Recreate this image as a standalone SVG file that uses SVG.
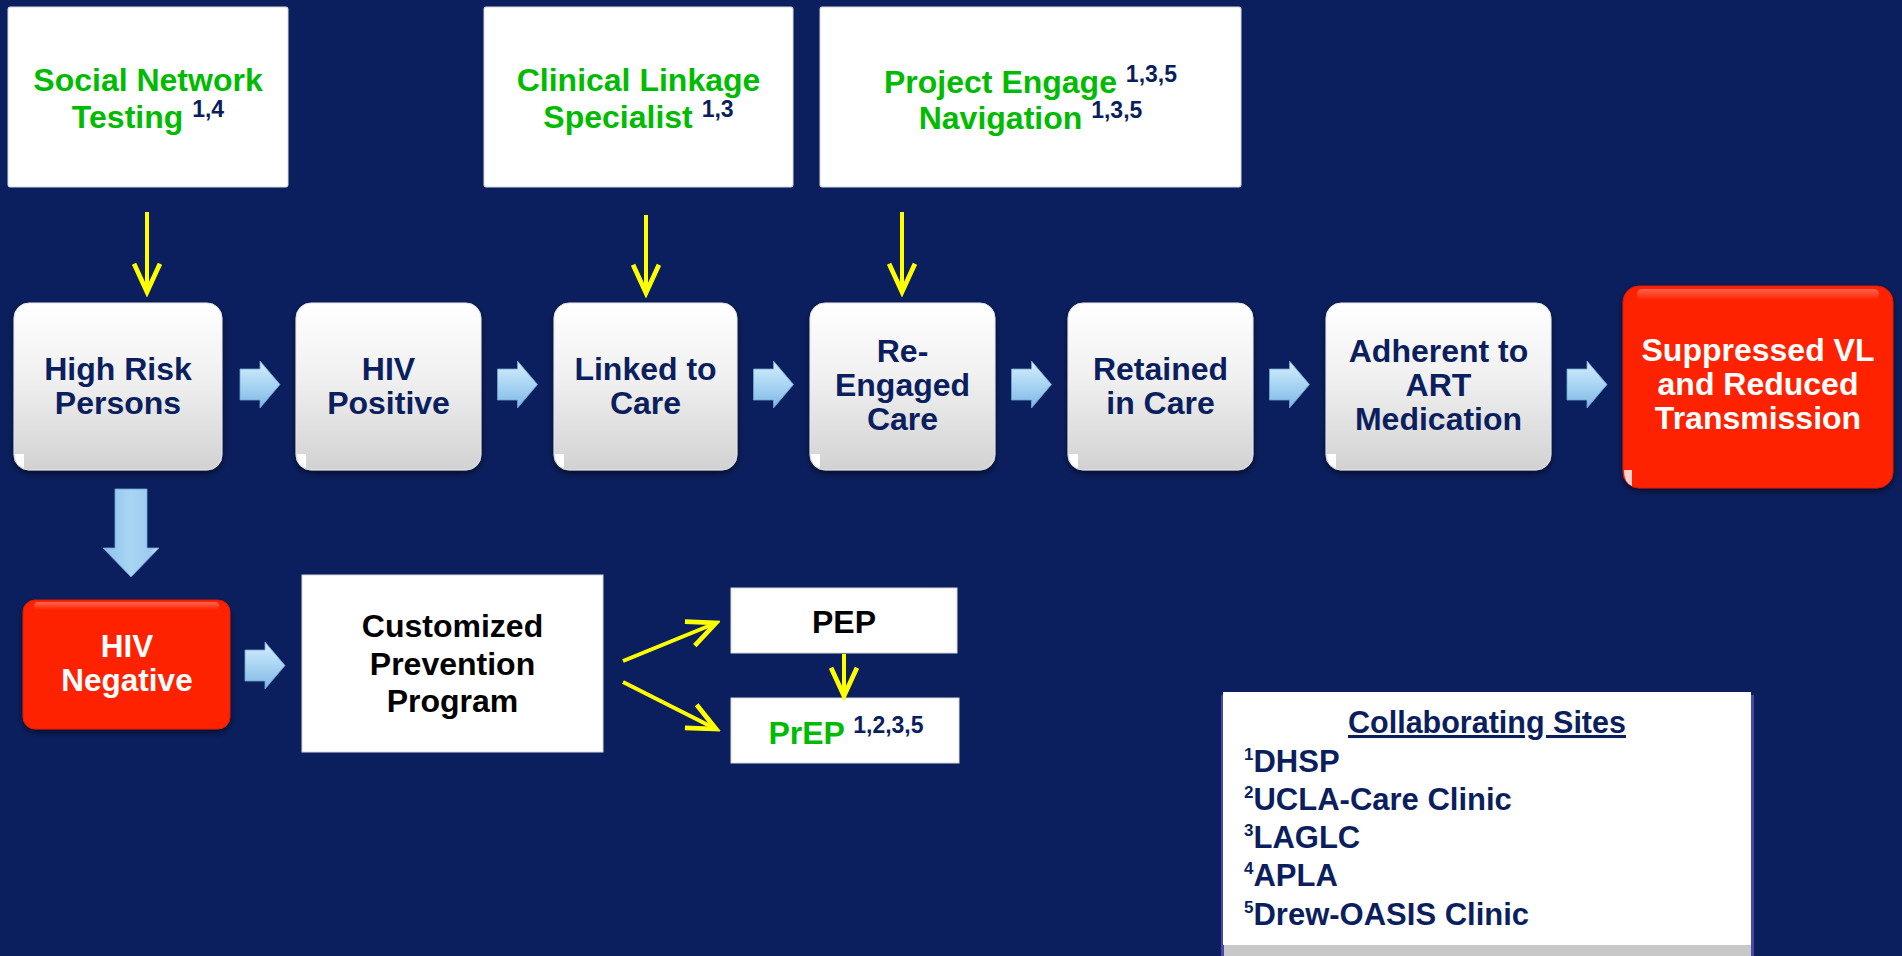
<svg xmlns="http://www.w3.org/2000/svg" width="1902" height="956" viewBox="0 0 1902 956">
  <defs>
    <style>
      text { font-family: "Liberation Sans", Arial, sans-serif; font-weight: bold; }
      .step { font-size: 32px; fill: #0B1F5E; text-anchor: middle; }
      .alert { font-size: 32px; fill: #FFFFFF; text-anchor: middle; }
      .prog { font-size: 32px; fill: #00BB00; text-anchor: middle; }
      .sup { font-size: 23px; fill: #0B1F5E; }
      .plain { font-size: 32px; fill: #000000; text-anchor: middle; }
      .card { fill: #FFFFFF; stroke: #D8D8D8; stroke-width: 1; }
      .node { fill: url(#nodeFill); stroke: #E4E4E4; stroke-width: 1; filter: url(#shadow); }
      .red { fill: #FF2400; stroke: #D81C00; stroke-width: 1; filter: url(#shadow); }
      .gloss { fill: url(#gloss); }
      .nick { fill: #FFFFFF; }
      .hop { fill: url(#hopFill); stroke: #6EA6D6; stroke-width: 0.8; }
      .drop { fill: url(#dropFill); stroke: #6EA6D6; stroke-width: 0.8; }
      .feed { stroke: #FFFF00; stroke-width: 4; fill: none; marker-end: url(#chevron); }
      .site { font-size: 31px; fill: #0B1F5E; }
      .siteSup { font-size: 17px; }
    </style>
    <linearGradient id="nodeFill" x1="0" y1="0" x2="0" y2="1">
      <stop offset="0" stop-color="#FFFFFF"/>
      <stop offset="0.45" stop-color="#F0F0F0"/>
      <stop offset="1" stop-color="#D2D2D2"/>
    </linearGradient>
    <linearGradient id="gloss" x1="0" y1="0" x2="0" y2="1">
      <stop offset="0" stop-color="#FFFFFF" stop-opacity="0.3"/>
      <stop offset="1" stop-color="#FFFFFF" stop-opacity="0"/>
    </linearGradient>
    <linearGradient id="hopFill" x1="0" y1="0" x2="0" y2="1">
      <stop offset="0" stop-color="#D6EEFC"/>
      <stop offset="0.5" stop-color="#A9D5F3"/>
      <stop offset="1" stop-color="#7FB6E3"/>
    </linearGradient>
    <linearGradient id="dropFill" x1="0" y1="0" x2="1" y2="0">
      <stop offset="0" stop-color="#8CC2EA"/>
      <stop offset="0.5" stop-color="#A9D5F3"/>
      <stop offset="0.85" stop-color="#9BCBEF"/>
      <stop offset="1" stop-color="#CFE9FB"/>
    </linearGradient>
    <filter id="shadow" x="-10%" y="-10%" width="120%" height="125%">
      <feDropShadow dx="0" dy="3" stdDeviation="3" flood-color="#000000" flood-opacity="0.55"/>
    </filter>
    <marker id="chevron" markerUnits="userSpaceOnUse" markerWidth="40" markerHeight="40" viewBox="-30 -15 34 30" refX="0" refY="0" orient="auto">
      <path d="M -24 -11 L 0 0 L -24 11" fill="none" stroke="#FFFF00" stroke-width="4" stroke-linejoin="miter"/>
    </marker>
  </defs>

  <!-- backdrop -->
  <rect x="0" y="0" width="1902" height="956" fill="#0B1F5E"/>

  <!-- intervention cards -->
  <g id="social-network-testing">
    <rect class="card" x="8" y="7" width="280" height="180" rx="2"/>
    <text class="prog" x="148" y="91">Social Network</text>
    <text class="prog" x="148" y="128">Testing <tspan class="sup" dy="-11">1,4</tspan></text>
  </g>
  <g id="clinical-linkage-specialist">
    <rect class="card" x="484" y="7" width="309" height="180" rx="2"/>
    <text class="prog" x="638.5" y="91">Clinical Linkage</text>
    <text class="prog" x="638.5" y="128">Specialist <tspan class="sup" dy="-11">1,3</tspan></text>
  </g>
  <g id="project-engage">
    <rect class="card" x="820" y="7" width="421" height="180" rx="2"/>
    <text class="prog" x="1030.5" y="93">Project Engage <tspan class="sup" dy="-11">1,3,5</tspan></text>
    <text class="prog" x="1030.5" y="129">Navigation <tspan class="sup" dy="-11">1,3,5</tspan></text>
  </g>

  <!-- care cascade -->
  <g id="high-risk-persons">
    <rect class="node" x="14" y="303" width="208" height="167" rx="15"/>
    <path class="nick" d="M15 454 h9 v14 q-9 -2 -9 -14 z"/>
    <text class="step" x="118" y="380">High Risk</text>
    <text class="step" x="118" y="414">Persons</text>
  </g>
  <g id="hiv-positive">
    <rect class="node" x="296" y="303" width="185" height="167" rx="15"/>
    <path class="nick" d="M297 454 h9 v14 q-9 -2 -9 -14 z"/>
    <text class="step" x="388.5" y="380">HIV</text>
    <text class="step" x="388.5" y="414">Positive</text>
  </g>
  <g id="linked-to-care">
    <rect class="node" x="554" y="303" width="183" height="167" rx="15"/>
    <path class="nick" d="M555 454 h9 v14 q-9 -2 -9 -14 z"/>
    <text class="step" x="645.5" y="380">Linked to</text>
    <text class="step" x="645.5" y="414">Care</text>
  </g>
  <g id="re-engaged-care">
    <rect class="node" x="810" y="303" width="185" height="167" rx="15"/>
    <path class="nick" d="M811 454 h9 v14 q-9 -2 -9 -14 z"/>
    <text class="step" x="902.5" y="362">Re-</text>
    <text class="step" x="902.5" y="396">Engaged</text>
    <text class="step" x="902.5" y="430">Care</text>
  </g>
  <g id="retained-in-care">
    <rect class="node" x="1068" y="303" width="185" height="167" rx="15"/>
    <path class="nick" d="M1069 454 h9 v14 q-9 -2 -9 -14 z"/>
    <text class="step" x="1160.5" y="380">Retained</text>
    <text class="step" x="1160.5" y="414">in Care</text>
  </g>
  <g id="adherent-to-art">
    <rect class="node" x="1326" y="303" width="225" height="167" rx="15"/>
    <path class="nick" d="M1327 454 h9 v14 q-9 -2 -9 -14 z"/>
    <text class="step" x="1438.5" y="362">Adherent to</text>
    <text class="step" x="1438.5" y="396">ART</text>
    <text class="step" x="1438.5" y="430">Medication</text>
  </g>
  <g id="suppressed-vl">
    <rect class="red" x="1623" y="286" width="270" height="202" rx="16"/>
    <rect class="gloss" x="1637" y="289" width="242" height="11" rx="5"/>
    <path class="nick" d="M1624 470 h8 v16 q-8 -3 -8 -16 z" opacity="0.8"/>
    <text class="alert" x="1758" y="361">Suppressed VL</text>
    <text class="alert" x="1758" y="395">and Reduced</text>
    <text class="alert" x="1758" y="429">Transmission</text>
  </g>

  <!-- prevention branch -->
  <g id="hiv-negative">
    <rect class="red" x="23" y="600" width="207" height="129" rx="12"/>
    <rect class="gloss" x="34" y="602" width="185" height="8" rx="4"/>
    <text class="alert" x="127" y="657" style="font-size:31.5px">HIV</text>
    <text class="alert" x="127" y="691" style="font-size:31.5px">Negative</text>
  </g>
  <g id="customized-prevention-program">
    <rect class="card" x="302" y="575" width="301" height="177"/>
    <text class="plain" x="452.5" y="637">Customized</text>
    <text class="plain" x="452.5" y="675">Prevention</text>
    <text class="plain" x="452.5" y="712">Program</text>
  </g>
  <g id="pep">
    <rect class="card" x="731" y="588" width="226" height="65"/>
    <text class="plain" x="844" y="633">PEP</text>
  </g>
  <g id="prep">
    <rect class="card" x="731" y="698" width="228" height="65"/>
    <text class="prog" x="846" y="744">PrEP <tspan class="sup" dy="-11">1,2,3,5</tspan></text>
  </g>

  <!-- connectors -->
  <g id="connectors">
    <!-- cascade hops -->
    <path class="hop" d="M240 369 H260 V361 L280 384.5 L260 408 V400 H240 Z"/>
    <path class="hop" d="M497.5 369 H517.5 V361 L537.5 384.5 L517.5 408 V400 H497.5 Z"/>
    <path class="hop" d="M753.5 369 H773.5 V361 L793.5 384.5 L773.5 408 V400 H753.5 Z"/>
    <path class="hop" d="M1011.5 369 H1031.5 V361 L1051.5 384.5 L1031.5 408 V400 H1011.5 Z"/>
    <path class="hop" d="M1269.5 369 H1289.5 V361 L1309.5 384.5 L1289.5 408 V400 H1269.5 Z"/>
    <path class="hop" d="M1567 369 H1587 V361 L1607 384.5 L1587 408 V400 H1567 Z"/>
    <!-- high risk down to negative -->
    <path class="drop" d="M115 489 H147 V548 H159 L131 577 L103 548 H115 Z"/>
    <!-- negative to program -->
    <path class="hop" d="M245 650 H265 V642 L285 665.5 L265 689 V681 H245 Z"/>
    <!-- intervention feeds -->
    <line class="feed" x1="147" y1="212" x2="147" y2="292"/>
    <line class="feed" x1="646" y1="215" x2="646" y2="293"/>
    <line class="feed" x1="902" y1="212" x2="902" y2="292"/>
    <!-- program options -->
    <line class="feed" x1="623" y1="661" x2="716" y2="623"/>
    <line class="feed" x1="623" y1="682" x2="716" y2="729"/>
    <line class="feed" x1="844" y1="654" x2="844" y2="696"/>
  </g>

  <!-- site legend -->
  <g id="collaborating-sites">
    <rect x="1221" y="695" width="533" height="261" fill="#4A48A6"/>
    <rect x="1223" y="692" width="528" height="253" fill="#FFFFFF"/>
    <rect x="1224" y="945" width="527" height="11" fill="#C8C8C8"/>
    <text class="site" x="1487" y="733" text-anchor="middle" text-decoration="underline" style="font-size:30.5px">Collaborating Sites</text>
    <text class="site" x="1244" y="772"><tspan class="siteSup" dy="-12">1</tspan><tspan dy="12">DHSP</tspan></text>
    <text class="site" x="1244" y="810"><tspan class="siteSup" dy="-12">2</tspan><tspan dy="12">UCLA-Care Clinic</tspan></text>
    <text class="site" x="1244" y="848"><tspan class="siteSup" dy="-12">3</tspan><tspan dy="12">LAGLC</tspan></text>
    <text class="site" x="1244" y="886"><tspan class="siteSup" dy="-12">4</tspan><tspan dy="12">APLA</tspan></text>
    <text class="site" x="1244" y="925"><tspan class="siteSup" dy="-12">5</tspan><tspan dy="12">Drew-OASIS Clinic</tspan></text>
  </g>
</svg>
